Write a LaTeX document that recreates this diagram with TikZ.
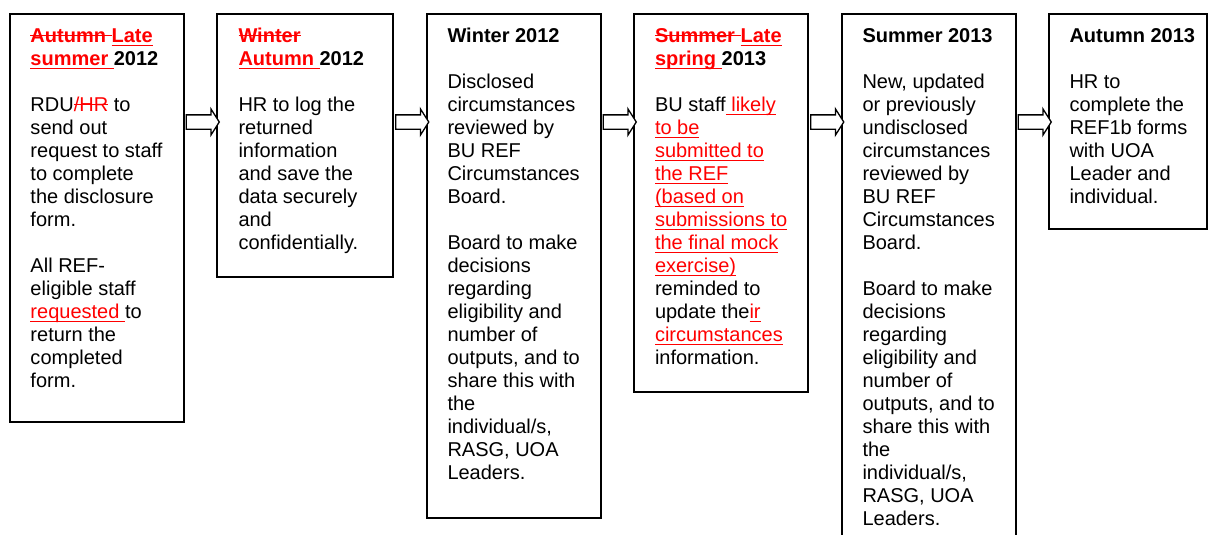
\documentclass[tikz,border=0pt]{standalone}
\usepackage{fontspec}
\setmainfont{Liberation Sans}
\usetikzlibrary{calc,shapes.arrows}
\newsavebox\redbox
\newcommand\insred[1]{\leavevmode\sbox\redbox{\color{red}\relax#1}\rlap{\color{red}\rule[-4.2pt]{\wd\redbox}{1.6pt}}\usebox\redbox}
\newcommand\delred[1]{\leavevmode\sbox\redbox{\color{red}\relax#1}\rlap{\color{red}\rule[5.6pt]{\wd\redbox}{1.6pt}}\usebox\redbox}
\begin{document}
\begin{tikzpicture}[x=1pt,y=-1pt,
 stage/.style={draw=black,line width=1.5pt,fill=white,anchor=north west,inner sep=0pt,outer sep=0pt},
 txt/.style={anchor=north west,inner sep=0pt,outer sep=0pt,align=left,font={\fontsize{20}{23}\selectfont}},
 flow/.style={single arrow,draw=black,fill=white,line width=1.3pt,minimum height=33pt,inner xsep=0pt,inner ysep=6.5pt,single arrow head extend=6pt,single arrow tip angle=115,outer sep=0pt}]
\path[use as bounding box] (0,0) rectangle (1212,535);
\clip (0,0) rectangle (1212,535);
% boxes
\node[stage,minimum width=174pt,minimum height=408pt] (b1) at (10,14) {};
\node[stage,minimum width=176pt,minimum height=263pt] (b2) at (217,14) {};
\node[stage,minimum width=174pt,minimum height=504pt] (b3) at (427,14) {};
\node[stage,minimum width=174pt,minimum height=378pt] (b4) at (634,14) {};
\node[stage,minimum width=174pt,minimum height=560pt] (b5) at (842,14) {};
\node[stage,minimum width=158pt,minimum height=215pt] (b6) at (1049,14) {};
% arrows
\node[flow] (a1) at ($(b1.north east)!0.5!(b2.north west)+(0,108)$) {};
\node[flow] (a2) at ($(b2.north east)!0.5!(b3.north west)+(0,108)$) {};
\node[flow] (a3) at ($(b3.north east)!0.5!(b4.north west)+(0,108)$) {};
\node[flow] (a4) at ($(b4.north east)!0.5!(b5.north west)+(0,108)$) {};
\node[flow] (a5) at ($(b5.north east)!0.5!(b6.north west)+(0,108)$) {};
% texts
\node[txt] (t1) at ($(b1.north west)+(20.5,11.9)$) {\strut{\bfseries\delred{Autumn }\insred{Late}}\\
{\bfseries\insred{summer }2012}\\ \mbox{}\\
RDU\delred{/HR} to\\
send out\\
request to staff\\
to complete\\
the disclosure\\
form.\\ \mbox{}\\
All REF-\\
eligible staff\\
\insred{requested }to\\
return the\\
completed\\
form.};
\node[txt] (t2) at ($(b2.north west)+(21.5,11.9)$) {\strut{\bfseries\delred{Winter}}\\
{\bfseries\insred{Autumn }2012}\\ \mbox{}\\
HR to log the\\
returned\\
information\\
and save the\\
data securely\\
and\\
confidentially.};
\node[txt] (t3) at ($(b3.north west)+(20.5,11.9)$) {\strut{\bfseries Winter 2012}\\ \mbox{}\\
Disclosed\\
circumstances\\
reviewed by\\
BU REF\\
Circumstances\\
Board.\\ \mbox{}\\
Board to make\\
decisions\\
regarding\\
eligibility and\\
number of\\
outputs, and to\\
share this with\\
the\\
individual/s,\\
RASG, UOA\\
Leaders.};
\node[txt] (t4) at ($(b4.north west)+(21,11.9)$) {\strut{\bfseries\delred{Summer }\insred{Late}}\\
{\bfseries\insred{spring }2013}\\ \mbox{}\\
BU staff\insred{ likely}\\
\insred{to be}\\
\insred{submitted to}\\
\insred{the REF}\\
\insred{(based on}\\
\insred{submissions to}\\
\insred{the final mock}\\
\insred{exercise)}\\
reminded to\\
update the\insred{ir}\\
\insred{circumstances}\\
information.};
\node[txt] (t5) at ($(b5.north west)+(20.5,11.9)$) {\strut{\bfseries Summer 2013}\\ \mbox{}\\
New, updated\\
or previously\\
undisclosed\\
circumstances\\
reviewed by\\
BU REF\\
Circumstances\\
Board.\\ \mbox{}\\
Board to make\\
decisions\\
regarding\\
eligibility and\\
number of\\
outputs, and to\\
share this with\\
the\\
individual/s,\\
RASG, UOA\\
Leaders.};
\node[txt] (t6) at ($(b6.north west)+(20.5,11.9)$) {\strut{\bfseries Autumn 2013}\\ \mbox{}\\
HR to\\
complete the\\
REF1b forms\\
with UOA\\
Leader and\\
individual.};
\end{tikzpicture}
\end{document}
